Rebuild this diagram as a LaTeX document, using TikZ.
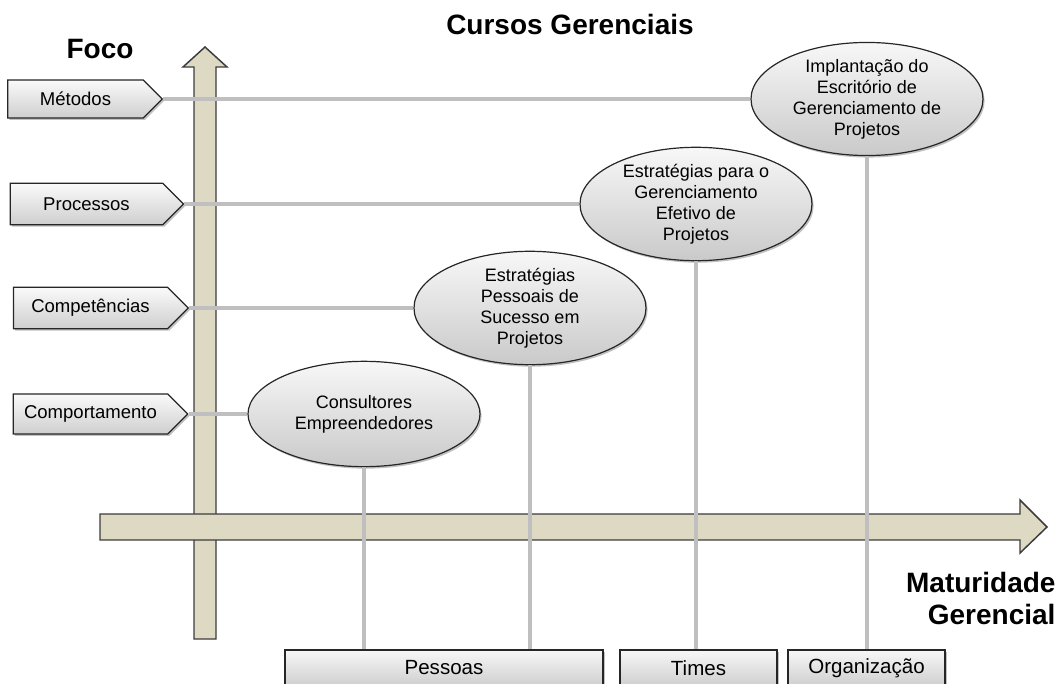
\documentclass[tikz,border=0pt]{standalone}
\usepackage{fontspec}
\setmainfont{Liberation Sans}
\usetikzlibrary{shapes.geometric,shapes.symbols,shadows}

\definecolor{tanfill}{RGB}{221,217,195}
\definecolor{linkgray}{RGB}{191,191,191}
\definecolor{edgegray}{RGB}{60,60,60}

\tikzset{every picture/.style={line width=0.75pt}}
\tikzset{
  softshadow/.style={drop shadow={shadow xshift=1.2pt,shadow yshift=-1.5pt,opacity=0.35,fill=black!70}},
  axisarrow/.style={draw=edgegray,fill=tanfill,line width=1.1pt,line join=miter},
  link/.style={draw=linkgray,line width=3.6pt},
  tagbox/.style={signal,signal to=east,signal from=nowhere,draw=black!85,line width=0.9pt,
    top color=gray!4,bottom color=gray!38,inner sep=0pt,softshadow,
    font=\fontsize{13.9}{16}\selectfont},
  course/.style={ellipse,draw=black!85,line width=0.9pt,top color=gray!6,bottom color=gray!42,
    minimum width=174pt,minimum height=79pt,inner sep=0pt,align=center,softshadow,
    font=\fontsize{13.5}{15.8}\selectfont},
  levelbox/.style={rectangle,draw=black!85,line width=0.9pt,top color=gray!6,bottom color=gray!38,
    minimum height=27pt,inner sep=0pt,softshadow,font=\fontsize{15.4}{18}\selectfont},
  heading/.style={font=\fontsize{21}{24}\selectfont\bfseries,inner sep=0pt}
}

\begin{document}
\begin{tikzpicture}[x=0.75pt,y=0.75pt,yscale=-1,xscale=1]
	\useasboundingbox (0,0) rectangle (1058,684);

	%Axis Arrows
	\draw [axisarrow] (194,639) -- (194,67) -- (183,67) -- (205,47) -- (227,67) -- (216,67) -- (216,639) -- cycle ;
	\draw [axisarrow] (100,514) -- (1020,514) -- (1020,500) -- (1047,527) -- (1020,553) -- (1020,540) -- (100,540) -- cycle ;

	% Text Node
	\node [heading] (foco) at (100,49) {Foco};
	% Text Node
	\node [heading] (cursos) at (570,24) {Cursos Gerenciais};
	% Text Node
	\node [heading,anchor=east,align=right] (matur) at (1056,598) {Maturidade\\Gerencial};

	%Focus Tags
	\node [tagbox,minimum width=116pt,minimum height=28.5pt] (metodos) at (75.5,99) {Métodos};
	\node [tagbox,minimum width=130pt,minimum height=31pt] (processos) at (86.5,204) {Processos};
	\node [tagbox,minimum width=131pt,minimum height=31pt] (compet) at (90.5,308) {Competências};
	\node [tagbox,minimum width=131pt,minimum height=30pt] (comport) at (90.5,414) {Comportamento};

	%Course Ellipses
	\node [course] (consult) at (364,414) {Consultores\\Empreendedores};
	\node [course] (pessoais) at (530,308) {Estratégias\\Pessoais de\\Sucesso em\\Projetos};
	\node [course] (efetivo) at (696,204) {Estratégias para o\\Gerenciamento\\Efetivo de\\Projetos};
	\node [course] (escrit) at (867,99) {Implantação do\\Escritório de\\Gerenciamento de\\Projetos};

	%Maturity Levels
	\node [levelbox,minimum width=238.5pt] (pessoas) at (444,668) {Pessoas};
	\node [levelbox,minimum width=117.75pt] (times) at (698.5,668) {Times};
	\node [levelbox,minimum width=117.75pt] (organiz) at (866.5,668) {Organização};

	%Straight Lines
	\draw [link] (metodos.east) -- (escrit.west) ;
	\draw [link] (processos.east) -- (efetivo.west) ;
	\draw [link] (compet.east) -- (pessoais.west) ;
	\draw [link] (comport.east) -- (consult.west) ;
	\draw [link] (consult.south) -- (consult.south |- pessoas.north) ;
	\draw [link] (pessoais.south) -- (pessoais.south |- pessoas.north) ;
	\draw [link] (efetivo.south) -- (efetivo.south |- times.north) ;
	\draw [link] (escrit.south) -- (escrit.south |- organiz.north) ;

\end{tikzpicture}
\end{document}
